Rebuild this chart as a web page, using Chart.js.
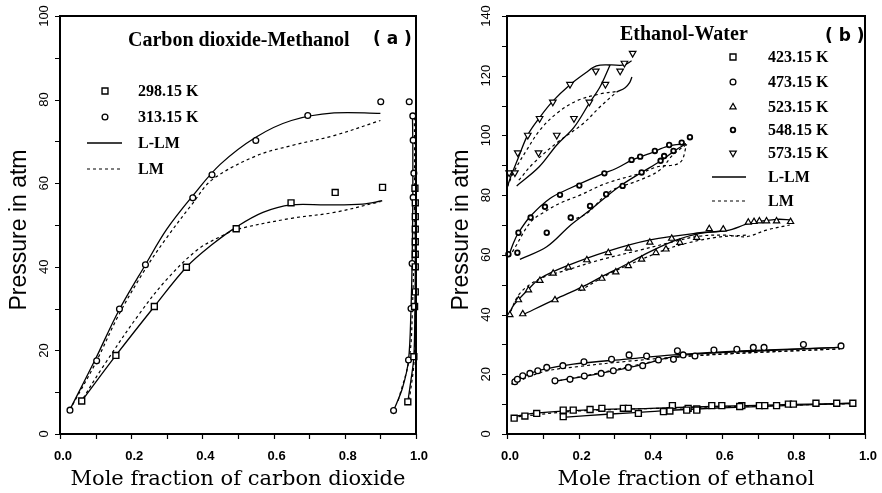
<!DOCTYPE html>
<html><head><meta charset="utf-8">
<script src="https://cdn.jsdelivr.net/npm/chart.js@4/dist/chart.umd.min.js"></script>
<style>
html,body{margin:0;padding:0;background:#fff;}
#wrap{position:relative;width:882px;height:493px;overflow:hidden;}
canvas{position:absolute;top:0;}
</style></head>
<body><div id="wrap">
<canvas id="ca" width="441" height="493" style="left:0"></canvas>
<canvas id="cb" width="441" height="493" style="left:441px"></canvas>
</div>
<script>
// ---------- Panel (a): Carbon dioxide - Methanol ----------
const A_X_TICKS = [0, 0.2, 0.4, 0.6, 0.8, 1.0];
const A_Y_TICKS = [0, 20, 40, 60, 80, 100];
const A_TEMPS = ['298.15 K', '313.15 K'];
const MODELS = ['L-LM', 'LM'];

const A_PTS_298 = [[0.061,7.9],[0.157,18.8],[0.265,30.5],[0.355,39.9],[0.495,49.1],[0.649,55.3],[0.773,57.8],[0.906,59.0],
  [0.977,7.7],[0.994,18.5],[0.996,30.5],[0.998,34.0],[0.998,40.0],[0.998,43.0],[0.998,46.0],[0.998,49.0],[0.998,52.0],[0.998,55.3],[0.997,58.8]];
const A_PTS_313 = [[0.028,5.7],[0.103,17.5],[0.167,29.9],[0.240,40.5],[0.373,56.5],[0.427,62.0],[0.550,70.2],[0.696,76.2],[0.901,79.5],
  [0.937,5.6],[0.979,17.7],[0.986,30.0],[0.989,40.8],[0.992,56.6],[0.994,62.4],[0.992,70.3],[0.991,76.1],[0.981,79.5]];
const A_LLM_298_L = [[0.061,7.9],[0.157,18.8],[0.265,30.5],[0.355,39.9],[0.43,45.5],[0.495,49.5],[0.57,53.0],[0.649,54.8],[0.75,54.8],[0.85,55.0],[0.905,55.8]];
const A_LLM_313_L = [[0.027,5.7],[0.10,18.0],[0.165,29.5],[0.24,40.5],[0.30,49.0],[0.373,57.0],[0.45,64.5],[0.55,71.0],[0.65,75.0],[0.77,76.8],[0.90,76.7]];
const A_LM_298_L = [[0.056,7.3],[0.12,16.0],[0.225,29.0],[0.30,37.0],[0.385,44.0],[0.45,47.2],[0.50,49.0],[0.65,51.6],[0.77,53.0],[0.90,55.6]];
const A_LM_313_L = [[0.027,5.7],[0.10,17.0],[0.165,28.5],[0.24,39.5],[0.30,47.0],[0.373,55.2],[0.427,60.8],[0.55,66.5],[0.65,69.0],[0.77,71.4],[0.90,75.0]];
const A_LLM_298_V = [[0.977,7.7],[0.986,13.0],[0.994,18.5],[0.997,30.0],[0.998,40.0],[0.998,50.0],[0.998,57.0]];
const A_LLM_313_V = [[0.937,5.6],[0.962,11.0],[0.979,17.7],[0.986,30.0],[0.989,40.7],[0.991,56.0],[0.991,70.0],[0.990,76.2]];
const A_LM_298_V = [[0.981,8.0],[0.995,18.0],[0.999,40.0],[0.999,57.0]];
const A_LM_313_V = [[0.950,8.0],[0.981,18.0],[0.990,30.0],[0.995,50.0],[0.996,70.0],[0.995,76.0]];

// ---------- Panel (b): Ethanol - Water ----------
const B_X_TICKS = [0, 0.2, 0.4, 0.6, 0.8, 1.0];
const B_Y_TICKS = [0, 20, 40, 60, 80, 100, 120, 140];
const B_TEMPS = ['423.15 K', '473.15 K', '523.15 K', '548.15 K', '573.15 K'];

const B_PTS_423 = [[0.02,5.3],[0.05,6.0],[0.083,6.9],[0.157,8.0],[0.185,8.0],[0.232,8.2],[0.265,8.6],[0.325,8.6],[0.339,8.6],[0.462,9.5],[0.506,8.6],[0.53,8.4],[0.572,9.5],[0.60,9.5],[0.656,9.5],[0.705,9.5],[0.72,9.5],[0.753,9.5],[0.786,10.0],[0.80,10.0],[0.863,10.3],[0.921,10.3],[0.966,10.3],
  [0.157,5.8],[0.288,6.4],[0.367,6.9],[0.437,7.5],[0.455,7.7],[0.502,8.0],[0.53,8.0],[0.65,9.2]];
const B_PTS_473 = [[0.022,17.5],[0.029,18.3],[0.044,19.5],[0.064,20.3],[0.086,21.2],[0.111,22.3],[0.156,22.9],[0.215,24.2],[0.292,25.0],[0.341,26.5],[0.39,26.1],[0.476,27.9],[0.578,28.1],[0.642,28.4],[0.688,29.0],[0.718,29.0],[0.828,30.0],[0.933,29.5],
  [0.134,17.8],[0.176,18.3],[0.216,19.4],[0.263,20.3],[0.297,21.2],[0.339,22.3],[0.379,22.9],[0.423,24.8],[0.465,25.0],[0.492,26.5],[0.525,26.1]];
const B_PTS_523 = [[0.008,39.9],[0.032,44.9],[0.06,48.2],[0.092,51.4],[0.129,53.8],[0.171,55.8],[0.223,58.3],[0.283,60.7],[0.339,62.2],[0.399,64.2],[0.46,65.5],[0.565,68.7],[0.604,68.6],[0.674,70.9],[0.69,71.1],[0.705,71.3],[0.725,71.3],[0.753,71.3],[0.792,71.1],
  [0.044,40.2],[0.134,44.9],[0.209,48.8],[0.265,52.1],[0.304,54.2],[0.339,56.3],[0.376,58.5],[0.416,60.7],[0.444,61.9],[0.483,64.1],[0.53,65.8]];
const B_PTS_548 = [[0.004,60.2],[0.032,67.4],[0.066,72.5],[0.106,76.1],[0.148,80.1],[0.202,83.2],[0.272,87.3],[0.348,91.8],[0.372,92.9],[0.413,94.8],[0.453,96.8],[0.488,97.6],[0.511,99.4],
  [0.029,60.7],[0.111,67.4],[0.178,72.5],[0.232,76.4],[0.277,80.3],[0.323,83.1],[0.376,87.6],[0.429,91.5],[0.439,93.1],[0.465,94.8]];
const B_PTS_573 = [[0.006,87.5],[0.022,87.5],[0.030,94.2],[0.058,100.1],[0.091,105.7],[0.128,111.2],[0.176,117.1],[0.248,121.6],[0.316,121.6],[0.328,124.2],[0.351,127.5],
  [0.088,94.2],[0.139,100.1],[0.187,105.7],[0.23,111.2],[0.275,117.1]];

const B_LLM_423_U = [[0.015,5.8],[0.08,7.0],[0.2,7.9],[0.4,8.6],[0.6,9.3],[0.8,9.9],[0.97,10.3]];
const B_LLM_423_D = [[0.155,5.6],[0.29,6.7],[0.4,7.5],[0.5,8.2],[0.7,9.2],[0.97,10.3]];
const B_LLM_473_U = [[0.013,16.7],[0.03,18.5],[0.06,20.0],[0.092,21.4],[0.185,23.4],[0.334,25.1],[0.465,26.5],[0.651,27.8],[0.93,29.0]];
const B_LLM_473_D = [[0.129,17.5],[0.26,20.3],[0.372,23.1],[0.465,25.9],[0.558,27.0],[0.70,27.8],[0.93,29.0]];
const B_LLM_523_U = [[0.004,39.3],[0.015,42.5],[0.032,45.0],[0.06,48.5],[0.092,52.1],[0.167,56.3],[0.278,61.1],[0.40,65.0],[0.539,67.4],[0.614,68.1],[0.679,70.6],[0.753,71.9],[0.795,71.7]];
const B_LLM_523_D = [[0.044,39.9],[0.134,45.1],[0.209,49.2],[0.265,52.7],[0.339,57.2],[0.40,61.1],[0.474,65.0],[0.539,67.2],[0.614,68.1]];
const B_LLM_548_U = [[0.004,59.4],[0.018,64.0],[0.032,67.4],[0.066,73.0],[0.12,78.9],[0.176,82.3],[0.26,86.8],[0.306,89.0],[0.35,91.8],[0.40,94.0],[0.45,96.4],[0.50,97.2]];
const B_LLM_548_D = [[0.036,58.5],[0.111,62.7],[0.178,70.0],[0.232,75.0],[0.277,79.5],[0.32,83.4],[0.376,87.6],[0.43,91.5],[0.47,95.0],[0.50,97.2]];
const B_LLM_573_U = [[0.001,82.8],[0.01,86.0],[0.03,92.0],[0.058,100.2],[0.091,106.0],[0.128,111.5],[0.176,117.0],[0.22,121.0],[0.25,123.3],[0.29,123.6],[0.327,123.6],[0.348,125.0]];
const B_LLM_573_D = [[0.027,83.1],[0.09,89.5],[0.139,96.8],[0.187,102.7],[0.23,110.8],[0.26,116.3],[0.288,123.6]];
const B_LLM_573_T = [[0.306,114.5],[0.33,116.0],[0.343,117.8],[0.349,119.6]];
const B_LM_423_U = [[0.015,5.6],[0.2,7.7],[0.5,8.8],[0.97,10.2]];
const B_LM_473_U = [[0.013,16.7],[0.10,20.8],[0.20,22.6],[0.35,24.5],[0.50,26.0],[0.70,27.3],[0.93,28.5]];
const B_LM_473_D = [[0.129,17.5],[0.26,20.5],[0.37,23.3],[0.46,25.5],[0.60,26.8],[0.93,28.5]];
const B_LM_523_U = [[0.004,39.3],[0.036,47.1],[0.092,52.0],[0.167,54.9],[0.26,58.3],[0.372,61.6],[0.465,64.4],[0.539,66.3],[0.614,66.6],[0.67,66.1],[0.725,68.3],[0.79,70.0]];
const B_LM_523_D = [[0.204,48.0],[0.288,53.8],[0.372,58.3],[0.446,61.9],[0.502,63.9],[0.586,65.9],[0.67,66.6]];
const B_LM_548_U = [[0.004,59.4],[0.018,61.6],[0.066,71.0],[0.106,74.5],[0.148,77.3],[0.204,80.0],[0.278,84.0],[0.372,87.3],[0.42,89.5],[0.483,90.9],[0.502,97.0]];
const B_LM_548_D = [[0.178,71.5],[0.223,73.9],[0.288,81.2],[0.372,85.1],[0.427,88.4],[0.465,93.7],[0.502,97.0]];
const B_LM_573_U = [[0.001,82.8],[0.02,88.0],[0.055,95.1],[0.092,101.8],[0.139,107.4],[0.195,111.6],[0.26,113.9],[0.306,114.7]];
const B_LM_573_D = [[0.033,85.0],[0.074,90.7],[0.139,97.5],[0.213,104.0],[0.26,109.6],[0.306,114.5]];

// ---------- styles ----------
const MK = {
  sq:  {style:'rect', r:4.2, bw:1.4, rot:0},
  ci:  {style:'circle', r:2.9, bw:1.3, rot:0},
  tri: {style:'triangle', r:3.6, bw:1.2, rot:0},
  dot: {style:'circle', r:2.3, bw:1.8, rot:0},
  tdn: {style:'triangle', r:3.8, bw:1.2, rot:180}
};
const xy = a => a.map(p => ({x:p[0], y:p[1]}));
function ptsDs(arr, mk){
  return {data: xy(arr), showLine:false, pointStyle: mk.style, pointRadius: mk.r, pointRotation: mk.rot,
    pointBorderWidth: mk.bw, pointBorderColor:'#000', pointBackgroundColor:'#fff', clip:false};
}
function lineDs(arr, dashed){
  return {data: xy(arr), showLine:true, pointRadius:0, borderColor:'#000', borderWidth: dashed?1.2:1.3,
    borderDash: dashed?[3,3]:[], tension:0.35, clip:false, fill:false};
}

function drawMarker(ctx, mk, x, y){
  ctx.save(); ctx.fillStyle='#fff'; ctx.strokeStyle='#000'; ctx.lineWidth=mk.bw;
  Chart.helpers.drawPoint(ctx, {pointStyle:mk.style, radius:mk.r, rotation:mk.rot, borderWidth:mk.bw}, x, y);
  ctx.restore();
}

const decor = {
  id:'decor',
  afterDraw(chart, args, o){
    const ctx = chart.ctx, ca = chart.chartArea, xs = chart.scales.x, ys = chart.scales.y;
    ctx.save();
    ctx.strokeStyle='#000'; ctx.lineWidth=2;
    ctx.strokeRect(ca.left, ca.top, ca.right-ca.left, ca.bottom-ca.top);
    // tick marks (outward) from scale ticks
    ctx.lineWidth=1.2; ctx.beginPath();
    xs.ticks.forEach(t => { const px = Math.round(xs.getPixelForValue(t.value))+0.5; ctx.moveTo(px, ca.bottom); ctx.lineTo(px, ca.bottom+5); });
    ys.ticks.forEach(t => { const py = Math.round(ys.getPixelForValue(t.value))+0.5; ctx.moveTo(ca.left, py); ctx.lineTo(ca.left-5, py); });
    ctx.stroke();
    ctx.fillStyle='#000';
    // x tick labels
    ctx.font='bold 13px "Liberation Sans"'; ctx.textAlign='center'; ctx.textBaseline='middle';
    o.xLabels.forEach(v => ctx.fillText(v.toFixed(1), xs.getPixelForValue(v)+3, o.xLabelY));
    // y tick labels (rotated)
    ctx.font='13px "Liberation Sans"';
    o.yLabels.forEach(v => {
      ctx.save(); ctx.translate(o.yLabelX, ys.getPixelForValue(v)); ctx.rotate(-Math.PI/2);
      ctx.textAlign='center'; ctx.textBaseline='alphabetic'; ctx.fillText(String(v),0,0); ctx.restore();
    });
    // axis titles
    ctx.font='21px "DejaVu Serif"'; ctx.textAlign='center'; ctx.textBaseline='alphabetic';
    ctx.fillText(o.xTitle, (ca.left+ca.right)/2, o.xTitleY);
    ctx.save(); ctx.translate(o.yTitleX, o.yTitleY); ctx.rotate(-Math.PI/2);
    ctx.font='23px "Liberation Sans"'; ctx.textAlign='center'; ctx.textBaseline='alphabetic';
    ctx.fillText(o.yTitle,0,0); ctx.restore();
    // panel titles
    ctx.textAlign='left'; ctx.textBaseline='middle';
    o.titles.forEach(t => { ctx.font=t.font; ctx.fillText(t.text, t.x, t.y); });
    // legend
    const L = o.legend;
    ctx.font='bold 16px "Liberation Serif"';
    L.items.forEach((it, i) => {
      const y = L.rows[i];
      if (it.mk) drawMarker(ctx, it.mk, L.markerX, y);
      else {
        ctx.save(); ctx.strokeStyle='#000'; ctx.lineWidth = it.dashed?1.2:1.3;
        ctx.setLineDash(it.dashed?[3,3]:[]);
        ctx.beginPath(); ctx.moveTo(L.lineX0, y); ctx.lineTo(L.lineX1, y); ctx.stroke(); ctx.restore();
      }
      ctx.fillStyle='#000'; ctx.textAlign='left'; ctx.textBaseline='middle';
      ctx.fillText(it.label, L.textX, y+1);
    });
    ctx.restore();
  }
};

function makeChart(id, datasets, yMax, leftW, rightPad, deco){
  return new Chart(document.getElementById(id), {
    type:'scatter',
    data:{datasets},
    options:{
      responsive:false, animation:false, devicePixelRatio:1,
      layout:{padding:{left:0, right:rightPad, top:16, bottom:0}},
      plugins:{legend:{display:false}, tooltip:{enabled:false}, decor:deco},
      events:[],
      scales:{
        x:{type:'linear', min:0, max:1, ticks:{display:false, stepSize:0.1}, grid:{display:false}, border:{display:false},
           afterFit: s => { s.height = 59; s.paddingLeft = 0; s.paddingRight = 0; }},
        y:{type:'linear', min:0, max:yMax, ticks:{display:false, stepSize:10}, grid:{display:false}, border:{display:false},
           afterFit: s => { s.width = leftW; s.paddingTop = 0; s.paddingBottom = 0; }}
      }
    },
    plugins:[decor]
  });
}

// Panel a
const dsA = [
  ptsDs(A_PTS_298, MK.sq), ptsDs(A_PTS_313, MK.ci),
  lineDs(A_LLM_298_L,false), lineDs(A_LLM_313_L,false), lineDs(A_LLM_298_V,false), lineDs(A_LLM_313_V,false),
  lineDs(A_LM_298_L,true), lineDs(A_LM_313_L,true), lineDs(A_LM_298_V,true), lineDs(A_LM_313_V,true)
];
makeChart('ca', dsA, 100, 60, 25, {
  xLabels:A_X_TICKS, yLabels:A_Y_TICKS, xLabelY:456, yLabelX:48,
  xTitle:'Mole fraction of carbon dioxide', xTitleY:485,
  yTitle:'Pressure in atm', yTitleX:26, yTitleY:230,
  titles:[{text:'Carbon dioxide-Methanol', x:128, y:41, font:'bold 20px "Liberation Serif"'},
          {text:'( a )', x:373, y:40, font:'bold 17px "DejaVu Sans"'}],
  legend:{markerX:105, lineX0:87, lineX1:122, textX:138, rows:[91,117,143,169],
    items:[{mk:MK.sq, label:A_TEMPS[0]},{mk:MK.ci, label:A_TEMPS[1]},{label:MODELS[0], dashed:false},{label:MODELS[1], dashed:true}]}
});

// Panel b
const dsB = [
  ptsDs(B_PTS_423, MK.sq), ptsDs(B_PTS_473, MK.ci), ptsDs(B_PTS_523, MK.tri), ptsDs(B_PTS_548, MK.dot), ptsDs(B_PTS_573, MK.tdn),
  lineDs(B_LLM_423_U,false), lineDs(B_LLM_423_D,false), lineDs(B_LLM_473_U,false), lineDs(B_LLM_473_D,false),
  lineDs(B_LLM_523_U,false), lineDs(B_LLM_523_D,false), lineDs(B_LLM_548_U,false), lineDs(B_LLM_548_D,false),
  lineDs(B_LLM_573_U,false), lineDs(B_LLM_573_D,false), lineDs(B_LLM_573_T,false),
  lineDs(B_LM_423_U,true), lineDs(B_LM_473_U,true), lineDs(B_LM_473_D,true), lineDs(B_LM_523_U,true), lineDs(B_LM_523_D,true),
  lineDs(B_LM_548_U,true), lineDs(B_LM_548_D,true), lineDs(B_LM_573_U,true), lineDs(B_LM_573_D,true)
];
makeChart('cb', dsB, 140, 66, 17, {
  xLabels:B_X_TICKS, yLabels:B_Y_TICKS, xLabelY:456, yLabelX:49,
  xTitle:'Mole fraction of ethanol', xTitleY:485,
  yTitle:'Pressure in atm', yTitleX:27, yTitleY:230,
  titles:[{text:'Ethanol-Water', x:179, y:35, font:'bold 20px "Liberation Serif"'},
          {text:'( b )', x:384, y:37, font:'bold 17px "DejaVu Sans"'}],
  legend:{markerX:292, lineX0:271, lineX1:305, textX:327, rows:[57,82,107,130,153,177,201],
    items:[{mk:MK.sq, label:B_TEMPS[0]},{mk:MK.ci, label:B_TEMPS[1]},{mk:MK.tri, label:B_TEMPS[2]},{mk:MK.dot, label:B_TEMPS[3]},{mk:MK.tdn, label:B_TEMPS[4]},
           {label:MODELS[0], dashed:false},{label:MODELS[1], dashed:true}]}
});
</script>
</body></html>
